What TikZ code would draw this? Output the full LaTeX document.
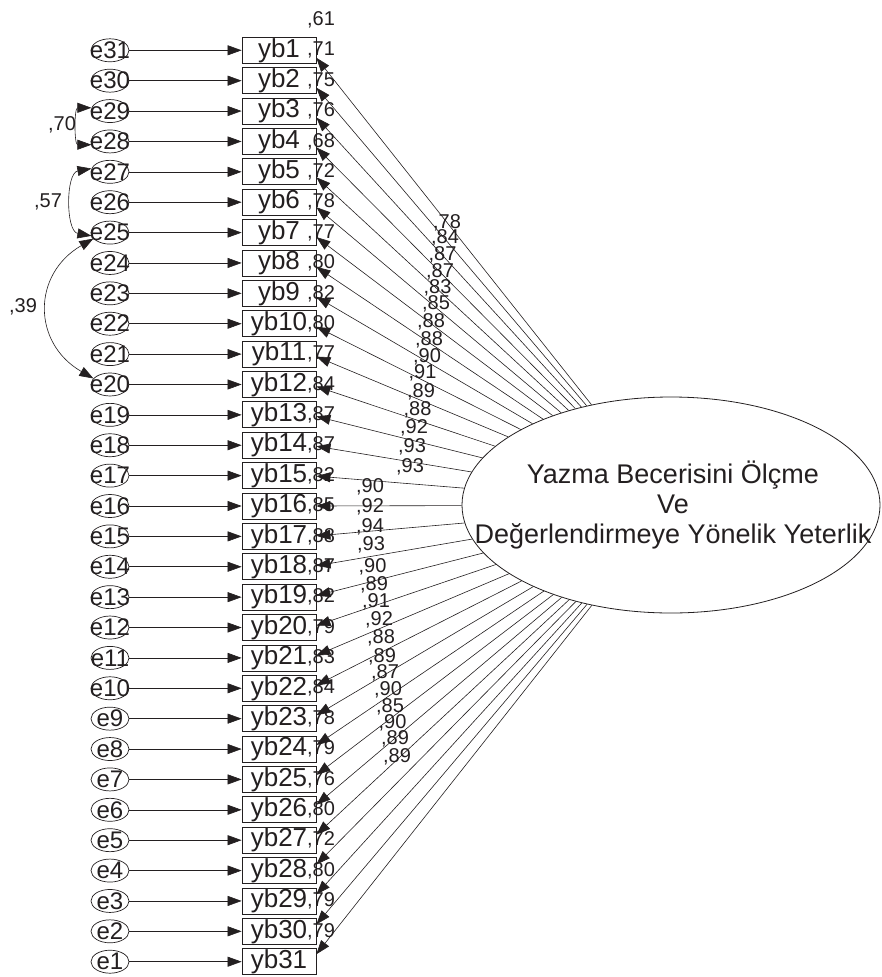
\documentclass[tikz,border=0pt]{standalone}
\usepackage{fontspec}
\setsansfont{Liberation Sans}
\usetikzlibrary{arrows.meta, shapes.geometric}
\definecolor{ink}{HTML}{231F20}

\begin{document}
\begin{tikzpicture}[
    x=1pt, y=1pt,
    >={Triangle[length=14pt, width=10pt]}, font=\sffamily, color=ink,
    evar/.style={ellipse, draw=ink, line width=0.7pt, minimum width=38pt,
                 minimum height=23pt, inner sep=0pt},
    ename/.style={font=\sffamily\fontsize{24}{24}\selectfont, inner sep=0pt},
    obs/.style={draw=ink, line width=0.8pt, minimum width=74pt, minimum height=26pt,
                inner sep=0pt, font=\sffamily\fontsize{26}{26}\selectfont},
    est/.style={font=\sffamily\fontsize{20}{20}\selectfont, inner sep=0pt},
    latent/.style={ellipse, draw=ink, line width=0.8pt, minimum width=418pt,
                   minimum height=216pt, inner sep=0pt},
    lattext/.style={align=center, font=\sffamily\fontsize{27}{30}\selectfont},
    reg/.style={->, line width=0.6pt},
    cov/.style={<->, line width=0.6pt},
]
\useasboundingbox (0,0) rectangle (881,-977);

\node[latent] (F) at (671,-505) {};
\node[lattext] (Ft) at (673,-505)
   {Yazma Becerisini Ölçme\\ Ve\\ Değerlendirmeye Yönelik Yeterlik};

% error terms, observed items and squared multiple correlations
\foreach \r [count=\i] in {61,71,75,76,68,72,78,77,80,82,80,77,84,87,87,82,
                           85,88,87,82,79,83,84,78,79,76,80,72,80,79,79} {
  \pgfmathsetmacro\y{-(50.3+(\i-1)*30.38)}
  \pgfmathtruncatemacro\j{32-\i}
  \node[evar] (e\j) at (110,\y) {};
  \node[ename] (et\j) at (e\j) {e\j};
  \node[obs] (yb\i) at (279,\y) {yb\i};
  \node[est] (r\i) at (321,\y+30.4) {,\r};
  \draw[reg] (e\j) -- (yb\i);
}

% factor loadings
\foreach \lx/\ly/\v [count=\i] in {447/223/78, 445/238/84, 442.5/255/87, 440/272/87,
    437.5/288/83, 436/304/85, 431/322/88, 429/340/88, 427/357/90, 422.5/373/91,
    421/392/89, 417.5/410/88, 414/428/92, 412/447/93, 410/467/93, 370/487/90,
    370/507/92, 370/527/94, 371/545/93, 372.5/567/90, 374/585/89, 376/602/91,
    379/620/92, 381/638/88, 382/657/89, 385/673/87, 388/690/90, 390/707/85,
    392.5/723/90, 395/739/89, 397/757/89} {
  \pgfmathsetmacro\tip{(\i-16)*0.5}
  \draw[reg] (F) -- ([yshift=\tip pt]yb\i.east);
  \node[est] (l\i) at (\lx,-\ly) {,\v};
}

% correlated errors
\draw[cov] (e29.170) to[out=180, in=180, looseness=1.2] (e28.190);
\node[est] (c1) at (62,-125) {,70};
\draw[cov] (e27.170) to[out=190, in=170] (e25.190);
\node[est] (c2) at (48,-202) {,57};
\draw[cov] (e25.200) to[out=210, in=150, looseness=1.3] (e20.160);
\node[est] (c3) at (23,-307) {,39};

\end{tikzpicture}
\end{document}
